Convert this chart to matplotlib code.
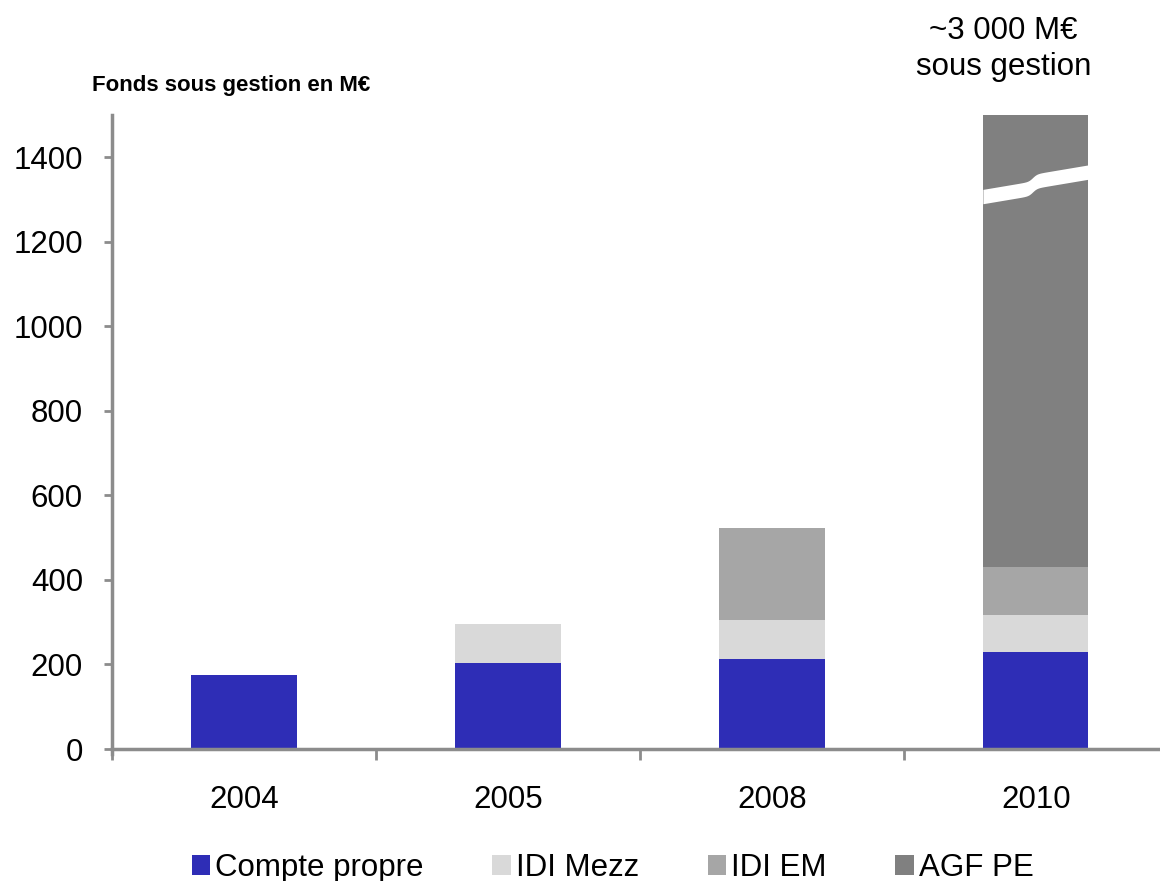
#!/usr/bin/env python3
"""Stacked bars: funds under management (M€) by year, with a broken 2010 bar."""

import matplotlib

matplotlib.use("Agg")
import matplotlib.pyplot as plt  # noqa: E402
import numpy as np  # noqa: E402

plt.rcParams["font.family"] = ["Liberation Sans", "DejaVu Sans"]

YEARS = ["2004", "2005", "2008", "2010"]
COMPTE_PROPRE = [175, 203, 212, 229]
IDI_MEZZ = [0, 92, 93, 87]
IDI_EM = [0, 0, 217, 114]
AGF_PE = [0, 0, 0, 2570]
SERIES = [
    ("Compte propre", COMPTE_PROPRE, "#2e2db6"),
    ("IDI Mezz", IDI_MEZZ, "#d9d9d9"),
    ("IDI EM", IDI_EM, "#a6a6a6"),
    ("AGF PE", AGF_PE, "#808080"),
]
YMAX = 1500
AXIS_GREY = "#8c8c8c"

fig = plt.figure(figsize=(11.6, 8.81), dpi=100)
ax = fig.add_axes([0.0966, 0.1498, 0.91, 0.7197])

x = np.arange(len(YEARS))
width = 0.4
bottom = np.zeros(len(YEARS))
handles = []
for label, vals, color in SERIES:
    vals = np.array(vals, dtype=float)
    bars = ax.bar(x, vals, width, bottom=bottom, color=color, label=label, linewidth=0)
    handles.append(bars)
    bottom += vals

# white "break" band across the clipped 2010 bar
bx = np.linspace(x[-1] - width / 2, x[-1] + width / 2, 60)
t = (bx - bx[0]) / (bx[-1] - bx[0])
mid = 1315 + 42 * t + 8 * np.tanh((t - 0.47) * 25)
ax.fill_between(bx, mid - 17, mid + 17, color="white", linewidth=0, zorder=3)

ax.set_xlim(-0.5, len(YEARS) - 0.5)
ax.set_ylim(0, YMAX)
ax.set_yticks(range(0, 1401, 200))
ax.tick_params(axis="y", length=6, width=2, color=AXIS_GREY, labelsize=22.5, pad=15)

# category boundaries as downward ticks, year labels centred between them
ax.set_xticks(np.arange(-0.5, len(YEARS), 1.0))
ax.set_xticklabels([])
ax.tick_params(axis="x", which="major", direction="out", length=8, width=2, color=AXIS_GREY)
ax.set_xticks(x, minor=True)
ax.set_xticklabels(YEARS, minor=True)
ax.tick_params(axis="x", which="minor", length=0, labelsize=22.5, pad=26)

for side in ("top", "right"):
    ax.spines[side].set_visible(False)
for side in ("left", "bottom"):
    ax.spines[side].set_color(AXIS_GREY)
    ax.spines[side].set_linewidth(2.5)
ax.spines["left"].set_bounds(-12, YMAX)

fig.text(0.079, 0.903, "Fonds sous gestion en M€", fontsize=16, fontweight="bold",
         va="center", ha="left")
fig.text(0.865, 0.944, "~3 000 M€\nsous gestion", fontsize=22.5, ha="center", va="center",
         linespacing=1.25)

fig.legend(handles=handles, loc="center", bbox_to_anchor=(0.528, 0.015), ncol=4,
           frameon=False, fontsize=22.5, handlelength=0.6, handleheight=0.6,
           handletextpad=0.15, columnspacing=2.2, borderpad=0)

fig.savefig("out.png", dpi=100)
